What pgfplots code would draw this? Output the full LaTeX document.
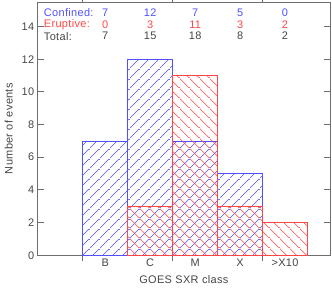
\documentclass[border=0pt]{standalone}
\usepackage{fontspec}
\setmainfont{Liberation Sans}[LetterSpace=3]
\usepackage{pgfplots}
\pgfplotsset{compat=1.18}
\usetikzlibrary{patterns}
\definecolor{cblue}{RGB}{80,80,255}
\definecolor{cred}{RGB}{255,70,70}
\definecolor{txt}{RGB}{70,70,70}
\definecolor{axc}{RGB}{110,110,110}
\makeatletter
\pgfdeclarepatterninherentlycolored{bluehatch}{\pgfpointorigin}{\pgfqpoint{10bp}{10bp}}{\pgfqpoint{10bp}{10bp}}{%
  \pgfsys@color@rgb@stroke{0.314}{0.314}{1}\pgfsetlinewidth{0.6bp}%
  \pgfpathmoveto{\pgfqpoint{-1bp}{-1bp}}\pgfpathlineto{\pgfqpoint{11bp}{11bp}}\pgfusepath{stroke}}
\pgfdeclarepatterninherentlycolored{redhatch}{\pgfpointorigin}{\pgfqpoint{10bp}{10bp}}{\pgfqpoint{10bp}{10bp}}{%
  \pgfsys@color@rgb@stroke{1}{0.275}{0.275}\pgfsetlinewidth{0.6bp}%
  \pgfpathmoveto{\pgfqpoint{-1bp}{11bp}}\pgfpathlineto{\pgfqpoint{11bp}{-1bp}}\pgfusepath{stroke}}
\makeatother
\begin{document}
\begin{tikzpicture}
\begin{axis}[
  scale only axis, width=292bp, height=253bp,
  xmin=-0.5, xmax=6, ymin=0, ymax=15.5,
  axis line style={axc, line width=0.8pt},
  every tick/.style={axc, line width=0.8pt},
  tick align=inside, major tick length=6bp,
  ytick={0,2,...,14},
  xtick={0.5,2.5,4.5}, xticklabels={},
  extra x ticks={1,2,3,4,5},
  extra x tick labels={B,C,M,X,>X10},
  extra x tick style={major tick length=0pt},
  tick label style={txt, font=\fontsize{11}{13}\selectfont},
  /pgf/number format/assume math mode=true,
  xlabel={GOES SXR class}, ylabel={Number of events},
  label style={txt, font=\fontsize{11}{13}\selectfont},
  xlabel style={yshift=4bp},
  ylabel style={yshift=2bp},
  ybar, bar width=1, bar shift=0pt,
  clip=false,
]
\addplot[draw=cblue, line width=0.7pt, pattern=bluehatch]
  coordinates {(1,7) (2,12) (3,7) (4,5)};
\addplot[draw=cred, line width=0.7pt, pattern=redhatch]
  coordinates {(2,3) (3,11) (4,3) (5,2)};
\begin{scope}[font=\fontsize{11}{13}\selectfont]
\node[cblue, anchor=west] at (axis cs:-0.44,14.87) {Confined:};
\node[cred, anchor=west] at (axis cs:-0.44,14.12) {Eruptive:};
\node[txt, anchor=west] at (axis cs:-0.44,13.41) {Total:};
\node[cblue] at (axis cs:1,14.87) {7};
\node[cblue] at (axis cs:2,14.87) {12};
\node[cblue] at (axis cs:3,14.87) {7};
\node[cblue] at (axis cs:4,14.87) {5};
\node[cblue] at (axis cs:5,14.87) {0};
\node[cred] at (axis cs:1,14.12) {0};
\node[cred] at (axis cs:2,14.12) {3};
\node[cred] at (axis cs:3,14.12) {11};
\node[cred] at (axis cs:4,14.12) {3};
\node[cred] at (axis cs:5,14.12) {2};
\node[txt] at (axis cs:1,13.41) {7};
\node[txt] at (axis cs:2,13.41) {15};
\node[txt] at (axis cs:3,13.41) {18};
\node[txt] at (axis cs:4,13.41) {8};
\node[txt] at (axis cs:5,13.41) {2};
\end{scope}
\end{axis}
\pgfresetboundingbox
\useasboundingbox ([shift={(-37.7bp,-32bp)}]current axis.south west) rectangle ([shift={(2bp,2bp)}]current axis.north east);
\end{tikzpicture}
\end{document}
